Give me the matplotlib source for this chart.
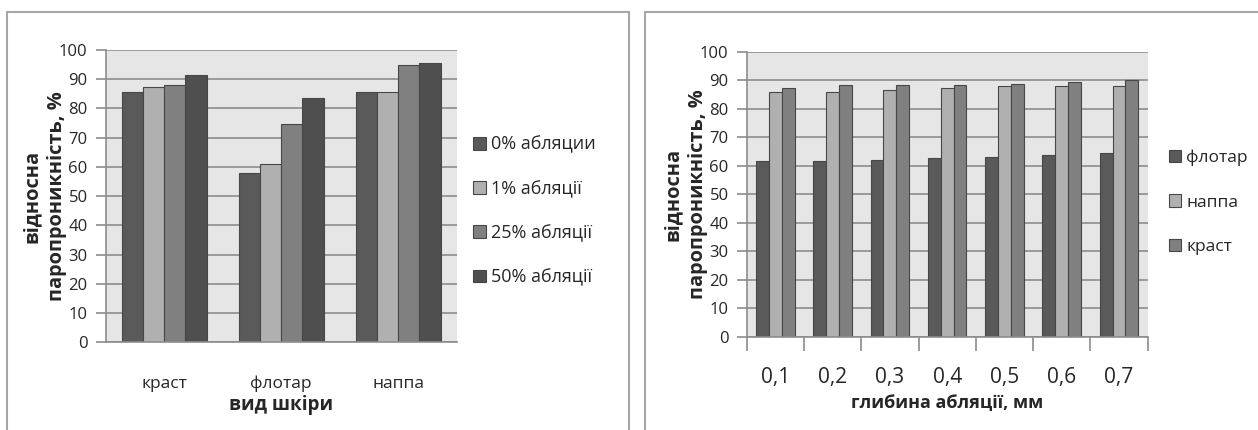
import numpy as np
import matplotlib
matplotlib.use("Agg")
import matplotlib.pyplot as plt
from matplotlib.patches import Rectangle

plt.rcParams['font.family'] = ['Open Sans', 'DejaVu Sans']

# ---- дані: ліва діаграма (вид шкіри) ----
leather = ['краст', 'флотар', 'наппа']
abl_0 = [85.8, 58.0, 85.8]
abl_1 = [87.3, 61.1, 85.8]
abl_25 = [87.9, 74.6, 94.7]
abl_50 = [91.3, 83.7, 95.4]
left_names = ['0% абляции', '1% абляції', '25% абляції', '50% абляції']

# ---- дані: права діаграма (глибина абляції) ----
depth = ['0,1', '0,2', '0,3', '0,4', '0,5', '0,6', '0,7']
flotar = [61.5, 61.5, 62.1, 62.7, 63.2, 63.8, 64.3]
nappa = [86.0, 86.0, 86.6, 87.2, 87.8, 87.9, 88.1]
krast = [87.2, 88.2, 88.2, 88.2, 88.8, 89.5, 89.9]
right_names = ['флотар', 'наппа', 'краст']

W, H = 1258, 430
fig = plt.figure(figsize=(W / 100, H / 100), dpi=100)

grid_c = '#8c8c8c'
bg_c = '#e6e6e6'
edge_c = '#474747'
txt_c = '#262626'

# рамки діаграм
fig.patches.append(Rectangle((7 / W, -0.1), (629 - 7) / W, 1.1 - 12 / H,
                             transform=fig.transFigure, fill=False,
                             edgecolor='#a6a6a6', lw=1.5))
fig.patches.append(Rectangle((645 / W, -0.1), 0.5, 1.1 - 12 / H,
                             transform=fig.transFigure, fill=False,
                             edgecolor='#a6a6a6', lw=1.5))


def style_axes(ax):
    ax.set_facecolor(bg_c)
    ax.set_ylim(0, 100)
    ax.set_yticks(range(0, 101, 10))
    ax.yaxis.grid(True, color=grid_c, lw=1.2)
    ax.set_axisbelow(True)
    for s in ['top', 'right']:
        ax.spines[s].set_visible(False)
    ax.spines['left'].set_color(grid_c)
    ax.spines['bottom'].set_color(grid_c)
    ax.spines['left'].set_linewidth(1.2)
    ax.spines['bottom'].set_linewidth(1.2)
    ax.tick_params(axis='y', length=7, color=grid_c, width=1.2,
                   labelsize=12, pad=6, labelcolor=txt_c)


# ===== ліва =====
ax1 = fig.add_axes([105.7 / W, 1 - 342.3 / H, 351 / W, (342.3 - 50) / H])
style_axes(ax1)
x = np.arange(len(leather))
series = [abl_0, abl_1, abl_25, abl_50]
colors1 = ['#5a5a5a', '#b0b0b0', '#808080', '#4f4f4f']
bw = 0.727 / 4
for i, (vals, c, n) in enumerate(zip(series, colors1, left_names)):
    ax1.bar(x + (i - 1.5) * bw, vals, bw, color=c, edgecolor=edge_c,
            lw=0.8, label=n)
ax1.set_xlim(-0.5, len(leather) - 0.5)
ax1.set_xticks(x)
ax1.set_xticklabels(leather, fontsize=12.5)
ax1.tick_params(axis='x', length=0, pad=24, labelcolor=txt_c)
ax1.set_xlabel('вид шкіри', fontsize=13.5, fontweight='bold', labelpad=2,
               color=txt_c)
ax1.set_ylabel('відносна\nпаропроникність, %', fontsize=14.4,
               fontweight='bold', labelpad=-6, linespacing=1.35, color=txt_c)
leg1 = ax1.legend(loc='upper left', bbox_to_anchor=(1.011, 0.75),
                  frameon=False, fontsize=13, handlelength=0.7,
                  handleheight=0.7, handletextpad=0.3, labelspacing=1.45,
                  borderaxespad=0.3)
for t in leg1.get_texts():
    t.set_color(txt_c)

# ===== права =====
ax2 = fig.add_axes([746.7 / W, 1 - 336.7 / H, 401 / W, (336.7 - 51.7) / H])
style_axes(ax2)
x2 = np.arange(len(depth))
series2 = [flotar, nappa, krast]
colors2 = ['#5a5a5a', '#b0b0b0', '#808080']
bw2 = 0.673 / 3
for i, (vals, c, n) in enumerate(zip(series2, colors2, right_names)):
    ax2.bar(x2 + (i - 1) * bw2, vals, bw2, color=c, edgecolor=edge_c,
            lw=0.8, label=n)
ax2.set_xlim(-0.5, len(depth) - 0.5)
ax2.set_xticks(x2)
ax2.set_xticklabels(depth, fontsize=15)
ax2.set_xticks(np.arange(-0.5, len(depth), 1), minor=True)
ax2.tick_params(axis='x', which='major', length=0, pad=22,
                labelcolor=txt_c)
ax2.tick_params(axis='x', which='minor', length=10, color=grid_c, width=1.2)
ax2.set_xlabel('глибина абляції, мм', fontsize=13, fontweight='bold',
               labelpad=4, color=txt_c)
ax2.set_ylabel('відносна\nпаропроникність, %', fontsize=14.4,
               fontweight='bold', labelpad=-6, linespacing=1.35, color=txt_c)
leg2 = ax2.legend(loc='upper left', bbox_to_anchor=(1.022, 0.7),
                  frameon=False, fontsize=12.5, handlelength=0.7,
                  handleheight=0.7, handletextpad=0.3, labelspacing=1.65,
                  borderaxespad=0.3)
for t in leg2.get_texts():
    t.set_color(txt_c)

fig.savefig('out.png', dpi=100)
